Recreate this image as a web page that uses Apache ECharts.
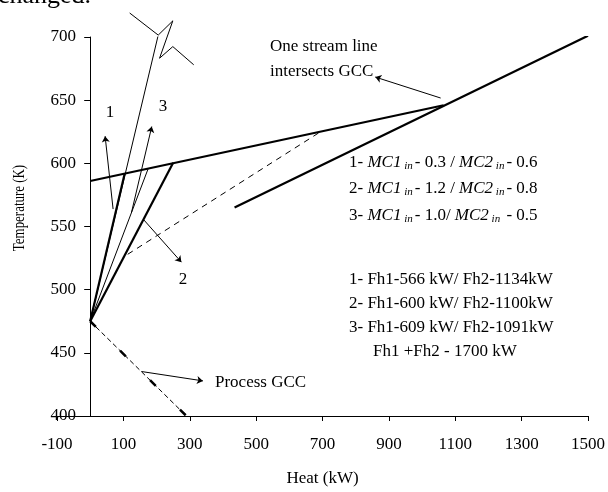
<!DOCTYPE html>
<html>
<head>
<meta charset="utf-8">
<script src="https://cdn.jsdelivr.net/npm/echarts@6/dist/echarts.min.js"></script>
<style>
  html, body { margin: 0; padding: 0; background: #fff; }
  #main { width: 608px; height: 492px; }
</style>
</head>
<body>
<div id="main"></div>
<script>
// 数据 (Heat kW, Temperature K)
var xTicks = [-100, 100, 300, 500, 700, 900, 1100, 1300, 1500];
var gccHot = [[0, 586], [1065, 646]];
var streamLine = [[435, 565], [1500, 701]];
var dashedLink = [[113, 528], [700, 626]];
var processGcc = [[0, 475], [290, 400]];
var case1 = [[0, 475], [104, 592]];
var case2 = [[0, 475], [250, 600.5]];
var case3 = [[0, 475], [175, 596]];
var steepLine = [[0, 475], [205, 701.5]];
var breakMark = [[119, 719], [205, 701.5], [249, 712.8], [209, 683.2], [249, 692.4], [312, 678]];
var arrows = [
    [[69, 563.8], [45, 621.5]],
    [[124.5, 561.2], [185.5, 629.1]],
    [[159.4, 555.9], [274.8, 521.8]],
    [[154.6, 435.2], [339.7, 427.8]],
    [[1056, 651.7], [859, 668.3]]
];

var FONT = '"Liberation Serif", "Times New Roman", serif';
var myChart = echarts.init(document.getElementById('main'));

function seg(data, width, type) {
    return {
        type: 'line',
        data: data,
        symbol: 'none',
        silent: true,
        lineStyle: { color: '#000', width: width, type: type || 'solid' }
    };
}

function txt(x, y, text, align) {
    return {
        type: 'text', x: x, y: y,
        style: { text: text, fill: '#000', font: '17px ' + FONT, align: align || 'left', verticalAlign: 'middle' }
    };
}

var brk = seg(breakMark, 1);
brk.clip = false;

var option = {
    animation: false,
    backgroundColor: '#fff',
    grid: { left: 57, right: 19, top: 37, bottom: 74, containLabel: false },
    xAxis: {
        type: 'value', min: -100, max: 1500,
        name: 'Heat (kW)', nameLocation: 'middle', nameGap: 54,
        nameTextStyle: { fontFamily: FONT, fontSize: 17, color: '#000' },
        axisLine: { lineStyle: { color: '#000', width: 1 } },
        axisTick: { show: true, length: 5, customValues: xTicks, lineStyle: { color: '#000' } },
        axisLabel: {
            customValues: xTicks, margin: 20, fontFamily: FONT, fontSize: 17, color: '#000',
            formatter: function (v) { return String(v); }
        },
        splitLine: { show: false }
    },
    yAxis: {
        type: 'value', min: 400, max: 700, interval: 50,
        axisLine: { show: true, onZero: true, lineStyle: { color: '#000', width: 1 } },
        axisTick: { show: true, length: 6, lineStyle: { color: '#000' } },
        axisLabel: { margin: -19, fontFamily: FONT, fontSize: 17, color: '#000' },
        splitLine: { show: false }
    },
    series: [
        seg(gccHot, 2.2),
        seg(streamLine, 2.2),
        seg(dashedLink, 1, [6, 5]),
        seg(processGcc, 1, [5, 3]),
        seg(processGcc, 2.5, [8, 34]),
        seg(case1, 2.2),
        seg(case2, 2.2),
        seg(case3, 1),
        seg(steepLine, 1),
        brk,
        {
            type: 'lines',
            coordinateSystem: 'cartesian2d',
            silent: true,
            symbol: ['none', 'arrow'],
            symbolSize: 6,
            lineStyle: { color: '#000', width: 1, opacity: 1 },
            data: arrows.map(function (a) { return { coords: a }; })
        }
    ],
    graphic: [
        {
            type: 'text', x: -2, y: 9,
            style: { text: 'changed.', fill: '#000', font: '26px ' + FONT, align: 'left', verticalAlign: 'bottom' }
        },
        txt(110, 113, '1', 'center'),
        txt(163, 107, '3', 'center'),
        txt(183, 280, '2', 'center'),
        txt(270, 47, 'One stream line'),
        txt(270, 72, 'intersects GCC'),
        txt(215, 383, 'Process GCC'),
        {
            type: 'text', x: 20, y: 208, rotation: Math.PI / 2, scaleX: 0.76,
            style: { text: 'Temperature (K)', fill: '#000', font: '17px ' + FONT, align: 'center', verticalAlign: 'middle' }
        },
        {
            type: 'text', x: 349, y: 149,
            style: {
                text: '1- {i|MC1}{s| in}- 0.3 / {i|MC2}{s| in}- 0.6\n' +
                      '2- {i|MC1}{s| in}- 1.2 / {i|MC2}{s| in}- 0.8\n' +
                      '3- {i|MC1}{s| in}- 1.0/ {i|MC2}{s| in} - 0.5',
                fill: '#000', font: '17px ' + FONT, lineHeight: 26.5, verticalAlign: 'top',
                rich: {
                    i: { fontFamily: FONT, fontSize: 17, fontStyle: 'italic', lineHeight: 26.5 },
                    s: { fontFamily: FONT, fontSize: 11, fontStyle: 'italic', lineHeight: 26.5, padding: [7, 2, 0, 0] }
                }
            }
        },
        txt(349, 280, '1- Fh1-566 kW/ Fh2-1134kW'),
        txt(349, 304, '2- Fh1-600 kW/ Fh2-1100kW'),
        txt(349, 328, '3- Fh1-609 kW/ Fh2-1091kW'),
        txt(373, 352, 'Fh1 +Fh2 - 1700 kW')
    ]
};

myChart.setOption(option);
</script>
</body>
</html>
